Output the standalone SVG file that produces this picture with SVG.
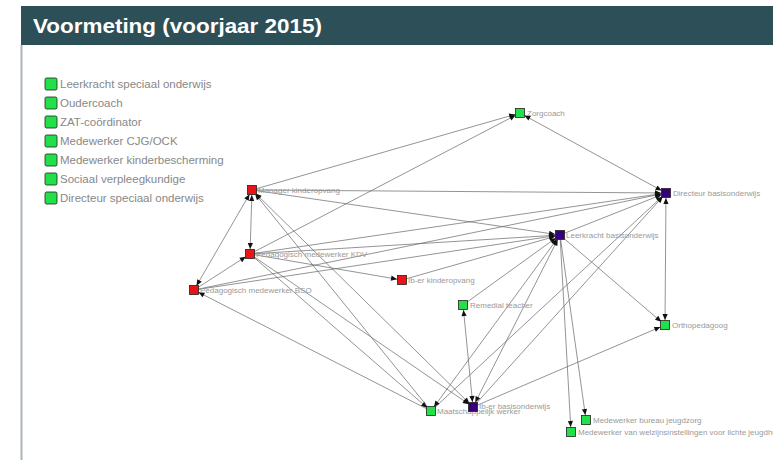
<svg xmlns="http://www.w3.org/2000/svg" width="773" height="460" viewBox="0 0 773 460">
<style>
.e{stroke:#666;stroke-width:0.7;fill:none;marker-end:url(#a)}
.b{marker-start:url(#a)}
.n{stroke:#222;stroke-width:0.8}
.red{fill:#e81418}.grn{fill:#22e04a}.pur{fill:#36007a}
.lbl{font-family:"Liberation Sans",Arial,sans-serif;font-size:8px;fill:#999}
.leg{font-family:"Liberation Sans",Arial,sans-serif;font-size:11.5px;fill:#888}
</style>
<defs>
<marker id="a" viewBox="-12 -3 12 6" refX="0" refY="0" markerWidth="12" markerHeight="6" markerUnits="userSpaceOnUse" orient="auto-start-reverse">
<path d="M-11,-2.6 L-5,0 L-11,2.6 z" fill="#111"/>
</marker>
</defs>
<rect x="0" y="0" width="773" height="460" fill="#fff"/>
<g id="header">
<rect x="21" y="6" width="752" height="39" fill="#2d4f58"/>
<text x="33" y="33" font-family="'Liberation Sans',Arial,sans-serif" font-size="21" font-weight="bold" fill="#fff" textLength="289" lengthAdjust="spacingAndGlyphs">Voormeting (voorjaar 2015)</text>
<line x1="21.5" y1="45" x2="21.5" y2="460" stroke="#a9b5ba" stroke-width="2"/>
</g>
<g id="legend">
<g id="leg1"><rect x="45" y="78" width="12" height="12" rx="1.5" class="grn n"/><text x="60" y="88" class="leg">Leerkracht speciaal onderwijs</text></g>
<g id="leg2"><rect x="45" y="97" width="12" height="12" rx="1.5" class="grn n"/><text x="60" y="107" class="leg">Oudercoach</text></g>
<g id="leg3"><rect x="45" y="116" width="12" height="12" rx="1.5" class="grn n"/><text x="60" y="126" class="leg">ZAT-coördinator</text></g>
<g id="leg4"><rect x="45" y="135" width="12" height="12" rx="1.5" class="grn n"/><text x="60" y="145" class="leg">Medewerker CJG/OCK</text></g>
<g id="leg5"><rect x="45" y="154" width="12" height="12" rx="1.5" class="grn n"/><text x="60" y="164" class="leg">Medewerker kinderbescherming</text></g>
<g id="leg6"><rect x="45" y="173" width="12" height="12" rx="1.5" class="grn n"/><text x="60" y="183" class="leg">Sociaal verpleegkundige</text></g>
<g id="leg7"><rect x="45" y="192" width="12" height="12" rx="1.5" class="grn n"/><text x="60" y="202" class="leg">Directeur speciaal onderwijs</text></g>
</g>
<g id="connectors">
<line class="e" x1="252" y1="190" x2="520" y2="113"/>
<line class="e" x1="250" y1="254" x2="520" y2="113"/>
<line class="e b" x1="520" y1="113" x2="666" y2="193"/>
<line class="e" x1="252" y1="190" x2="666" y2="193"/>
<line class="e" x1="250" y1="254" x2="666" y2="193"/>
<line class="e" x1="194" y1="290" x2="666" y2="193"/>
<line class="e" x1="560" y1="235" x2="666" y2="193"/>
<line class="e" x1="431" y1="411" x2="666" y2="193"/>
<line class="e" x1="473" y1="407" x2="666" y2="193"/>
<line class="e b" x1="666" y1="193" x2="665" y2="325"/>
<line class="e" x1="252" y1="190" x2="560" y2="235"/>
<line class="e" x1="250" y1="254" x2="560" y2="235"/>
<line class="e" x1="194" y1="290" x2="560" y2="235"/>
<line class="e" x1="402" y1="280" x2="560" y2="235"/>
<line class="e" x1="463" y1="305" x2="560" y2="235"/>
<line class="e" x1="560" y1="235" x2="665" y2="325"/>
<line class="e" x1="560" y1="235" x2="586" y2="420"/>
<line class="e" x1="560" y1="235" x2="571" y2="432"/>
<line class="e b" x1="560" y1="235" x2="473" y2="407"/>
<line class="e b" x1="560" y1="235" x2="431" y2="411"/>
<line class="e b" x1="252" y1="190" x2="250" y2="254"/>
<line class="e b" x1="252" y1="190" x2="194" y2="290"/>
<line class="e" x1="194" y1="290" x2="250" y2="254"/>
<line class="e" x1="250" y1="254" x2="402" y2="280"/>
<line class="e" x1="431" y1="411" x2="194" y2="290"/>
<line class="e" x1="250" y1="254" x2="431" y2="411"/>
<line class="e" x1="250" y1="254" x2="473" y2="407"/>
<line class="e" x1="431" y1="411" x2="252" y2="190"/>
<line class="e b" x1="252" y1="190" x2="473" y2="407"/>
<line class="e b" x1="463" y1="305" x2="473" y2="407"/>
<line class="e" x1="473" y1="407" x2="665" y2="325"/>
</g>
<g id="node-zorgcoach"><rect x="515.5" y="108.5" width="9" height="9" class="grn n"/><text x="527" y="116" class="lbl">Zorgcoach</text></g>
<g id="node-directeur"><rect x="661.5" y="188.5" width="9" height="9" class="pur n"/><text x="673" y="196" class="lbl">Directeur basisonderwijs</text></g>
<g id="node-manager"><rect x="247.5" y="185.5" width="9" height="9" class="red n"/><text x="258" y="193" class="lbl">Manager kinderopvang</text></g>
<g id="node-leerkracht"><rect x="555.5" y="230.5" width="9" height="9" class="pur n"/><text x="566" y="238" class="lbl">Leerkracht basisonderwijs</text></g>
<g id="node-kdv"><rect x="245.5" y="249.5" width="9" height="9" class="red n"/><text x="256" y="257" class="lbl">Pedagogisch medewerker KDV</text></g>
<g id="node-ib-kinderopvang"><rect x="397.5" y="275.5" width="9" height="9" class="red n"/><text x="408" y="283" class="lbl">Ib-er kinderopvang</text></g>
<g id="node-bso"><rect x="189.5" y="285.5" width="9" height="9" class="red n"/><text x="200" y="293" class="lbl">Pedagogisch medewerker BSO</text></g>
<g id="node-remedial"><rect x="458.5" y="300.5" width="9" height="9" class="grn n"/><text x="470" y="308" class="lbl">Remedial teacher</text></g>
<g id="node-ortho"><rect x="660.5" y="320.5" width="9" height="9" class="grn n"/><text x="672" y="328" class="lbl">Orthopedagoog</text></g>
<g id="node-maatschappelijk"><rect x="426.5" y="406.5" width="9" height="9" class="grn n"/><text x="437" y="414" class="lbl">Maatschappelijk werker</text></g>
<g id="node-ib-basis"><rect x="468.5" y="402.5" width="9" height="9" class="pur n"/><text x="479" y="409" class="lbl">Ib-er basisonderwijs</text></g>
<g id="node-jeugdzorg"><rect x="581.5" y="415.5" width="9" height="9" class="grn n"/><text x="593" y="423" class="lbl">Medewerker bureau jeugdzorg</text></g>
<g id="node-welzijn"><rect x="566.5" y="427.5" width="9" height="9" class="grn n"/><text x="578" y="435" class="lbl">Medewerker van welzijnsinstellingen voor lichte jeugdhulp</text></g>
</svg>
